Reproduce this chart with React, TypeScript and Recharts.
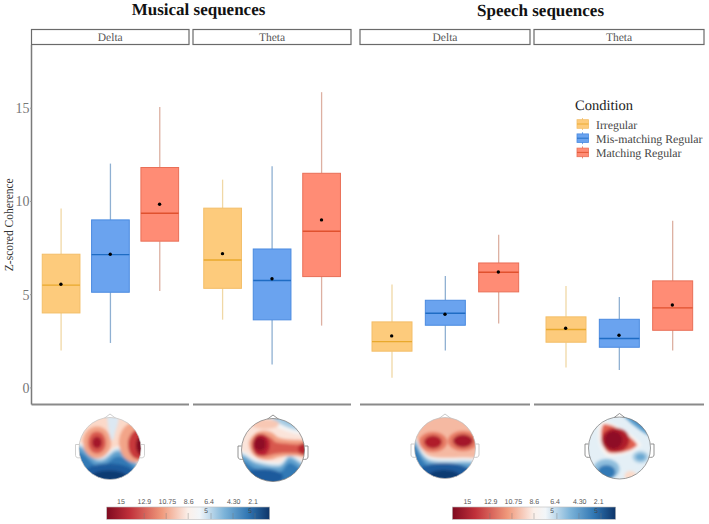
import { ComposedChart, Bar, Line, XAxis, YAxis, Label } from 'recharts';

const conditions = ['Irregular', 'Mis-matching Regular', 'Matching Regular'];

// low, q1, median, q3, high, mean per condition
const musicalDelta = [
  [2.0, 4.02, 5.51, 7.17, 9.62, 5.56],
  [2.41, 5.13, 7.15, 9.01, 12.03, 7.17],
  [5.2, 7.87, 9.37, 11.82, 15.07, 9.85],
];
const musicalTheta = [
  [3.66, 5.34, 6.86, 9.64, 11.17, 7.2],
  [1.25, 3.65, 5.76, 7.45, 11.89, 5.85],
  [3.34, 5.97, 8.4, 11.51, 15.86, 9.01],
];
const speechDelta = [
  [0.55, 1.97, 2.48, 3.54, 5.54, 2.79],
  [2.0, 3.36, 4.0, 4.7, 6.0, 3.95],
  [3.45, 5.15, 6.2, 6.7, 8.22, 6.22],
];
const speechTheta = [
  [1.1, 2.45, 3.13, 3.81, 5.47, 3.2],
  [0.96, 2.18, 2.65, 3.68, 4.88, 2.82],
  [2.0, 3.09, 4.29, 5.74, 8.97, 4.45],
];

const yTicks = [0, 5, 10, 15];
const yDomain = [-0.89, 18.39];
const colorbarLabels = ['15', '12.9', '10.75', '8.6', '6.4', '4.30', '2.1'];

const SERIF = '"Liberation Serif", serif';
const PLOT_TOP = 44.5;
const PLOT_H = 359.5;

const palette = [
  { fill: '#FDCB7C', stroke: '#F3BE68', median: '#E9A92C', whisker: '#F0D8A6' },
  { fill: '#6AA3EF', stroke: '#4A8AE0', median: '#1F6CC4', whisker: '#8FB0D2' },
  { fill: '#FF8C75', stroke: '#E96F57', median: '#E0512E', whisker: '#DDB0A2' },
];

const toRows = (stats: number[][]) =>
  stats.map((s, i) => ({
    condition: conditions[i],
    low: s[0],
    q1: s[1],
    median: s[2],
    q3: s[3],
    high: s[4],
    mean: s[5],
    colorIndex: i,
  }));

function BoxShape(props: any) {
  const { x, y, width, height, payload } = props;
  const c = palette[payload.colorIndex];
  const top = Math.min(y, y + height);
  const h = Math.abs(height);
  const unit = h / (payload.q3 - payload.q1);
  const yOf = (v: number) => top + (payload.q3 - v) * unit;
  const cx = x + width / 2;
  return (
    <g>
      <line x1={cx} x2={cx} y1={yOf(payload.high)} y2={top} stroke={c.whisker} strokeWidth={1.3} />
      <line x1={cx} x2={cx} y1={top + h} y2={yOf(payload.low)} stroke={c.whisker} strokeWidth={1.3} />
      <rect x={x} y={top} width={width} height={h} fill={c.fill} stroke={c.stroke} strokeWidth={1} />
      <line x1={x} x2={x + width} y1={yOf(payload.median)} y2={yOf(payload.median)} stroke={c.median} strokeWidth={1.4} />
    </g>
  );
}

function Panel({ stats, left, width, boxWidth, padding, showY }: any) {
  const rows = toRows(stats);
  const yWidth = showY ? 31.5 : 0;
  return (
    <div style={{ position: 'absolute', left: left - yWidth, top: PLOT_TOP }}>
      <ComposedChart
        width={width + yWidth}
        height={PLOT_H + 6}
        data={rows}
        margin={{ top: 0, right: 0, bottom: 0, left: 0 }}
      >
        <XAxis
          dataKey="condition"
          height={6}
          interval={0}
          padding={{ left: padding, right: padding }}
          axisLine={{ stroke: '#8a8a8a', strokeWidth: 2 }}
          tickLine={{ stroke: '#777', strokeWidth: 1 }}
          tickSize={2.5}
          tick={false}
        />
        <YAxis
          hide={!showY}
          width={yWidth}
          domain={yDomain}
          ticks={yTicks}
          axisLine={{ stroke: '#7a7a7a', strokeWidth: 1.5 }}
          tickLine={{ stroke: '#999', strokeWidth: 1 }}
          tickSize={1.5}
          tickMargin={0.5}
          tick={{ fontFamily: SERIF, fontSize: 14, fill: '#777' }}
        >
          {showY ? (
            <Label
              value="Z-scored Coherence"
              angle={-90}
              position="insideLeft"
              offset={0}
              dx={9}
              style={{ fontFamily: SERIF, fontSize: 11.5, fill: '#333', textAnchor: 'middle' }}
            />
          ) : null}
        </YAxis>
        <Bar
          dataKey={(d: any) => [d.q1, d.q3]}
          barSize={boxWidth}
          shape={<BoxShape />}
          isAnimationActive={false}
        />
        <Line
          dataKey="mean"
          stroke="none"
          dot={{ r: 1.7, fill: '#000', stroke: '#000', strokeWidth: 0 }}
          activeDot={false}
          isAnimationActive={false}
        />
      </ComposedChart>
    </div>
  );
}

const strips = [
  { x: 31.5, w: 157.5, label: 'Delta' },
  { x: 193, w: 158, label: 'Theta' },
  { x: 360, w: 170, label: 'Delta' },
  { x: 534, w: 170, label: 'Theta' },
];

type Shape = { d?: string; e?: number[]; fill: string };

// contour helper: same lower boundary pushed down by dy
const band = (pts: (dy: number) => string, dy: number, fill: string): Shape => ({ d: pts(dy), fill });

const edge1 = (k: number) =>
  `M-34,${-7 + k} C-23,${-6 + k} -19,${8 + k} -10,${8 + k} C-2,${8 + k} 1,${-2 + k} 8,${-2 + k} C16,${-2 + k} 23,${9 + k} 34,${18 + k} L34,36 L-34,36Z`;
const edge2 = (k: number) =>
  `M-34,${0 + k} C-26,${1 + k} -22,${8 + k} -16,${9 + k} C-8,${11 + k} 0,${13 + k} 7,${12 + k} C12,${10 + k} 13,${3 + k} 17,${3 + k} C22,${4 + k} 26,${9 + k} 34,${13 + k} L34,36 L-34,36Z`;
const edge3 = (k: number) =>
  `M-34,${-16 + k} C-26,${-10 + k} -27,${2 + k} -16,${8 + k} C-2,${12 + k} 14,${8 + k} 34,${10 + k} L34,36 L-34,36Z`;

const heads: { cx: number; cy: number; r: number; base: string; outline: string; shapes: Shape[] }[] = [
  {
    cx: 110, cy: 448.5, r: 31, base: '#FBD9C9', outline: '#c4c4c4',
    shapes: [
      band(edge1, 0, '#EFF3F6'),
      band(edge1, 2.5, '#A9CDE4'),
      band(edge1, 5, '#5FA0CE'),
      band(edge1, 10, '#3079B5'),
      { e: [-1, 24, 24, 9], fill: '#1E5A9C' },
      { e: [-1, 28, 18, 6], fill: '#0F3A72' },
      { d: 'M-3,-34 L9,-34 C9,-24 5,-18 4,-11 C3,-7 1,-7 0,-11 C-1,-18 -3,-26 -3,-34Z', fill: '#DCE8F2' },
      { e: [-13, -6, 14, 16], fill: '#F2A488' },
      { e: [-13, -6, 9, 11], fill: '#D8584E' },
      { e: [-13, -6, 5, 6], fill: '#A4142A' },
      { e: [25, -6, 16, 20], fill: '#F2A488' },
      { e: [29, -4, 11, 15], fill: '#C8383A' },
      { e: [32, -3, 6, 10], fill: '#7F0A20' },
    ],
  },
  {
    cx: 273, cy: 450, r: 31.5, base: '#FBE4DA', outline: '#777',
    shapes: [
      { d: 'M-12,-34 C-2,-24 16,-16 34,-14 L34,-34Z', fill: '#F4F4F4' },
      { d: 'M-4,-34 C4,-26 18,-20 34,-18 L34,-34Z', fill: '#A9CDE4' },
      { d: 'M6,-34 C10,-30 18,-26 30,-24 L30,-34Z', fill: '#6AA8D2' },
      { e: [-8, -26, 14, 5], fill: '#F8C8B4' },
      band(edge2, 0, '#F2F4F6'),
      band(edge2, 2.5, '#A9CDE4'),
      band(edge2, 5, '#5FA0CE'),
      band(edge2, 10, '#3079B5'),
      { e: [-10, 27, 20, 8], fill: '#1E5A9C' },
      { d: 'M-24,-8 C-18,-22 -4,-22 4,-13 C12,-9 24,-11 34,-9 L34,7 C22,6 8,5 0,9 C-12,13 -24,6 -24,-8Z', fill: '#F2A084' },
      { d: 'M-20,-6 C-14,-18 -4,-16 2,-8 C10,-6 24,-6 34,-5 L34,4 C22,3 6,2 -2,5 C-12,9 -20,4 -20,-6Z', fill: '#D8584E' },
      { e: [-12, -5, 9, 11], fill: '#B81F30' },
      { e: [-13, -6, 6, 7], fill: '#8E1026' },
      { e: [31, -1, 6, 6], fill: '#B8252E' },
    ],
  },
  {
    cx: 445, cy: 448, r: 30.5, base: '#F5B9A2', outline: '#bdbdbd',
    shapes: [
      band(edge3, 0, '#F2F4F6'),
      band(edge3, 3, '#A9CDE4'),
      band(edge3, 5.5, '#5FA0CE'),
      band(edge3, 10, '#3079B5'),
      { e: [-1, 24, 26, 9], fill: '#1E5A9C' },
      { e: [-1, 28, 16, 6], fill: '#0F3A72' },
      { e: [-12, -6, 14, 10], fill: '#E67A64' },
      { e: [-12, -6, 9, 6.5], fill: '#B01A2C' },
      { e: [18, -7, 15, 10], fill: '#E67A64' },
      { e: [18, -7, 10, 6.5], fill: '#A4142A' },
    ],
  },
  {
    cx: 619.5, cy: 448, r: 31, base: '#E4EFF6', outline: '#777',
    shapes: [
      { d: 'M-34,-4 L-28,20 L-10,34 L-34,34Z', fill: '#CFE2EF' },
      { d: 'M-19,-27 C-8,-28 16,-12 22,-3 C14,6 -4,9 -12,8 C-21,4 -24,-18 -19,-27Z', fill: '#FBF5F1' },
      { d: 'M-16,-24 C-6,-25 14,-10 18,-3 C12,4 -3,6 -10,5 C-18,2 -21,-16 -16,-24Z', fill: '#E0604F' },
      { e: [-4, -8, 14, 12], fill: '#B01A2C' },
      { e: [-6, -8, 9, 9], fill: '#8E1026' },
      { d: 'M2,-34 C12,-24 22,-16 34,-10 L34,-34Z', fill: '#5C9FCE' },
      { d: 'M8,-34 C16,-26 24,-20 34,-15 L34,-34Z', fill: '#2F75B2' },
      { d: 'M14,-34 C20,-28 26,-23 34,-20 L34,-34Z', fill: '#123F78' },
      { e: [21, 9, 8, 6], fill: '#A9CDE4' },
      { e: [21, 9, 5, 3.5], fill: '#6AA8D2' },
      { e: [-13, 21, 13, 10], fill: '#8FBEDD' },
      { e: [-13, 24, 9, 7], fill: '#3079B5' },
      { e: [11, 28, 6, 5], fill: '#FBDCCC' },
    ],
  },
];

const colorbars = [
  { x: 106.7, w: 163, labels: [121, 144.3, 167.3, 188.7, 209, 233.7, 253] },
  { x: 452.3, w: 163.4, labels: [467.3, 490.7, 513.3, 534.3, 555, 579.7, 598.7] },
];

function Head({ head, id }: any) {
  const { cx, cy, r, base, outline, shapes } = head;
  return (
    <g transform={`translate(${cx},${cy})`}>
      <path d={`M-6,${-r + 1} L0,${-r - 3.5} L6,${-r + 1}`} fill="#fff" stroke={outline} strokeWidth={0.8} />
      <path d={`M${-r},-4 L${-r - 3.5},-4 L${-r - 3.5},7 C${-r - 3.5},9 ${-r - 1},10 ${-r + 2},9`} fill="#fff" stroke={outline} strokeWidth={0.8} />
      <path d={`M${r},-4 L${r + 3.5},-4 L${r + 3.5},7 C${r + 3.5},9 ${r + 1},10 ${r - 2},9`} fill="#fff" stroke={outline} strokeWidth={0.8} />
      <clipPath id={`clip${id}`}>
        <circle r={r} />
      </clipPath>
      <g clipPath={`url(#clip${id})`}>
        <rect x={-r - 2} y={-r - 2} width={2 * r + 4} height={2 * r + 4} fill={base} />
        <g filter="url(#soft)">
          {shapes.map((s: Shape, i: number) =>
            s.d ? (
              <path key={i} d={s.d} fill={s.fill} />
            ) : (
              <ellipse key={i} cx={s.e![0]} cy={s.e![1]} rx={s.e![2]} ry={s.e![3]} fill={s.fill} />
            ),
          )}
        </g>
      </g>
      <circle r={r} fill="none" stroke={outline} strokeWidth={0.7} />
    </g>
  );
}

function Overlay() {
  return (
    <svg
      width={709}
      height={524}
      textRendering="geometricPrecision"
      style={{ position: 'absolute', left: 0, top: 0, pointerEvents: 'none' }}
    >
      <defs>
        <filter id="soft" x="-20%" y="-20%" width="140%" height="140%">
          <feGaussianBlur stdDeviation="1.8" />
        </filter>
        <linearGradient id="rdbu">
          <stop offset="0" stopColor="#7F0A20" />
          <stop offset="0.14" stopColor="#C0303A" />
          <stop offset="0.34" stopColor="#F09A7C" />
          <stop offset="0.5" stopColor="#FBF0EA" />
          <stop offset="0.57" stopColor="#F2F6F9" />
          <stop offset="0.72" stopColor="#7DB4D9" />
          <stop offset="0.87" stopColor="#2F75B2" />
          <stop offset="1" stopColor="#0D3468" />
        </linearGradient>
      </defs>

      <text x={198.5} y={15} textAnchor="middle" fontFamily={SERIF} fontWeight="bold" fontSize={17} fill="#111">Musical sequences</text>
      <text x={540.5} y={16} textAnchor="middle" fontFamily={SERIF} fontWeight="bold" fontSize={17} fill="#111">Speech sequences</text>

      {strips.map((s, i) => (
        <g key={i}>
          <rect x={s.x} y={29.5} width={s.w} height={15} fill="#fff" stroke="#6a6a6a" strokeWidth={1.2} />
          <text x={s.x + s.w / 2} y={41} textAnchor="middle" fontFamily={SERIF} fontSize={11.5} fill="#555">{s.label}</text>
        </g>
      ))}

      <text x={575} y={110} fontFamily={SERIF} fontSize={14.5} fill="#222">Condition</text>
      {conditions.map((name, i) => {
        const y = 124 + i * 14.2;
        const c = palette[i];
        return (
          <g key={name}>
            <line x1={582.5} x2={582.5} y1={y - 6} y2={y + 6} stroke={c.stroke} strokeWidth={0.8} />
            <rect x={577} y={y - 4.3} width={11.5} height={8.6} fill={c.fill} stroke={c.stroke} strokeWidth={0.8} />
            <line x1={577} x2={588.5} y1={y} y2={y} stroke={c.median} strokeWidth={0.9} />
            <text x={596} y={y + 4.5} fontFamily={SERIF} fontSize={11.8} fill="#444">{name}</text>
          </g>
        );
      })}

      {heads.map((h, i) => (
        <Head key={i} head={h} id={i} />
      ))}

      {colorbars.map((b, i) => (
        <g key={i}>
          <rect x={b.x} y={507} width={b.w} height={12.3} fill="url(#rdbu)" stroke="#bbb" strokeWidth={0.6} />
          {[0.23, 0.365, 0.5, 0.64, 0.775, 0.91].map((t) => (
            <line key={t} x1={b.x + t * b.w} x2={b.x + t * b.w} y1={513} y2={519} stroke="#777" strokeWidth={0.4} />
          ))}
          <text x={b.x + 0.61 * b.w} y={513} textAnchor="middle" fontFamily="Liberation Sans" fontSize={6.5} fill="#444">5</text>
          <text x={b.x + 0.88 * b.w} y={513} textAnchor="middle" fontFamily="Liberation Sans" fontSize={6.5} fill="#444">5</text>
          {colorbarLabels.map((l, j) => (
            <text key={j} x={b.labels[j]} y={504} textAnchor="middle" fontFamily="Liberation Sans" fontSize={7} fill="#555">{l}</text>
          ))}
        </g>
      ))}
    </svg>
  );
}

export default function App() {
  return (
    <div style={{ position: 'absolute', left: 0, top: 0, width: 709, height: 524, background: '#fff', overflow: 'hidden' }}>
      <Panel stats={musicalDelta} left={31.5} width={157.5} boxWidth={37.7} padding={4.75} showY />
      <Panel stats={musicalTheta} left={193} width={158} boxWidth={37.7} padding={4.75} />
      <Panel stats={speechDelta} left={360} width={170} boxWidth={40} padding={5} />
      <Panel stats={speechTheta} left={534} width={170} boxWidth={40} padding={5} />
      <Overlay />
    </div>
  );
}
